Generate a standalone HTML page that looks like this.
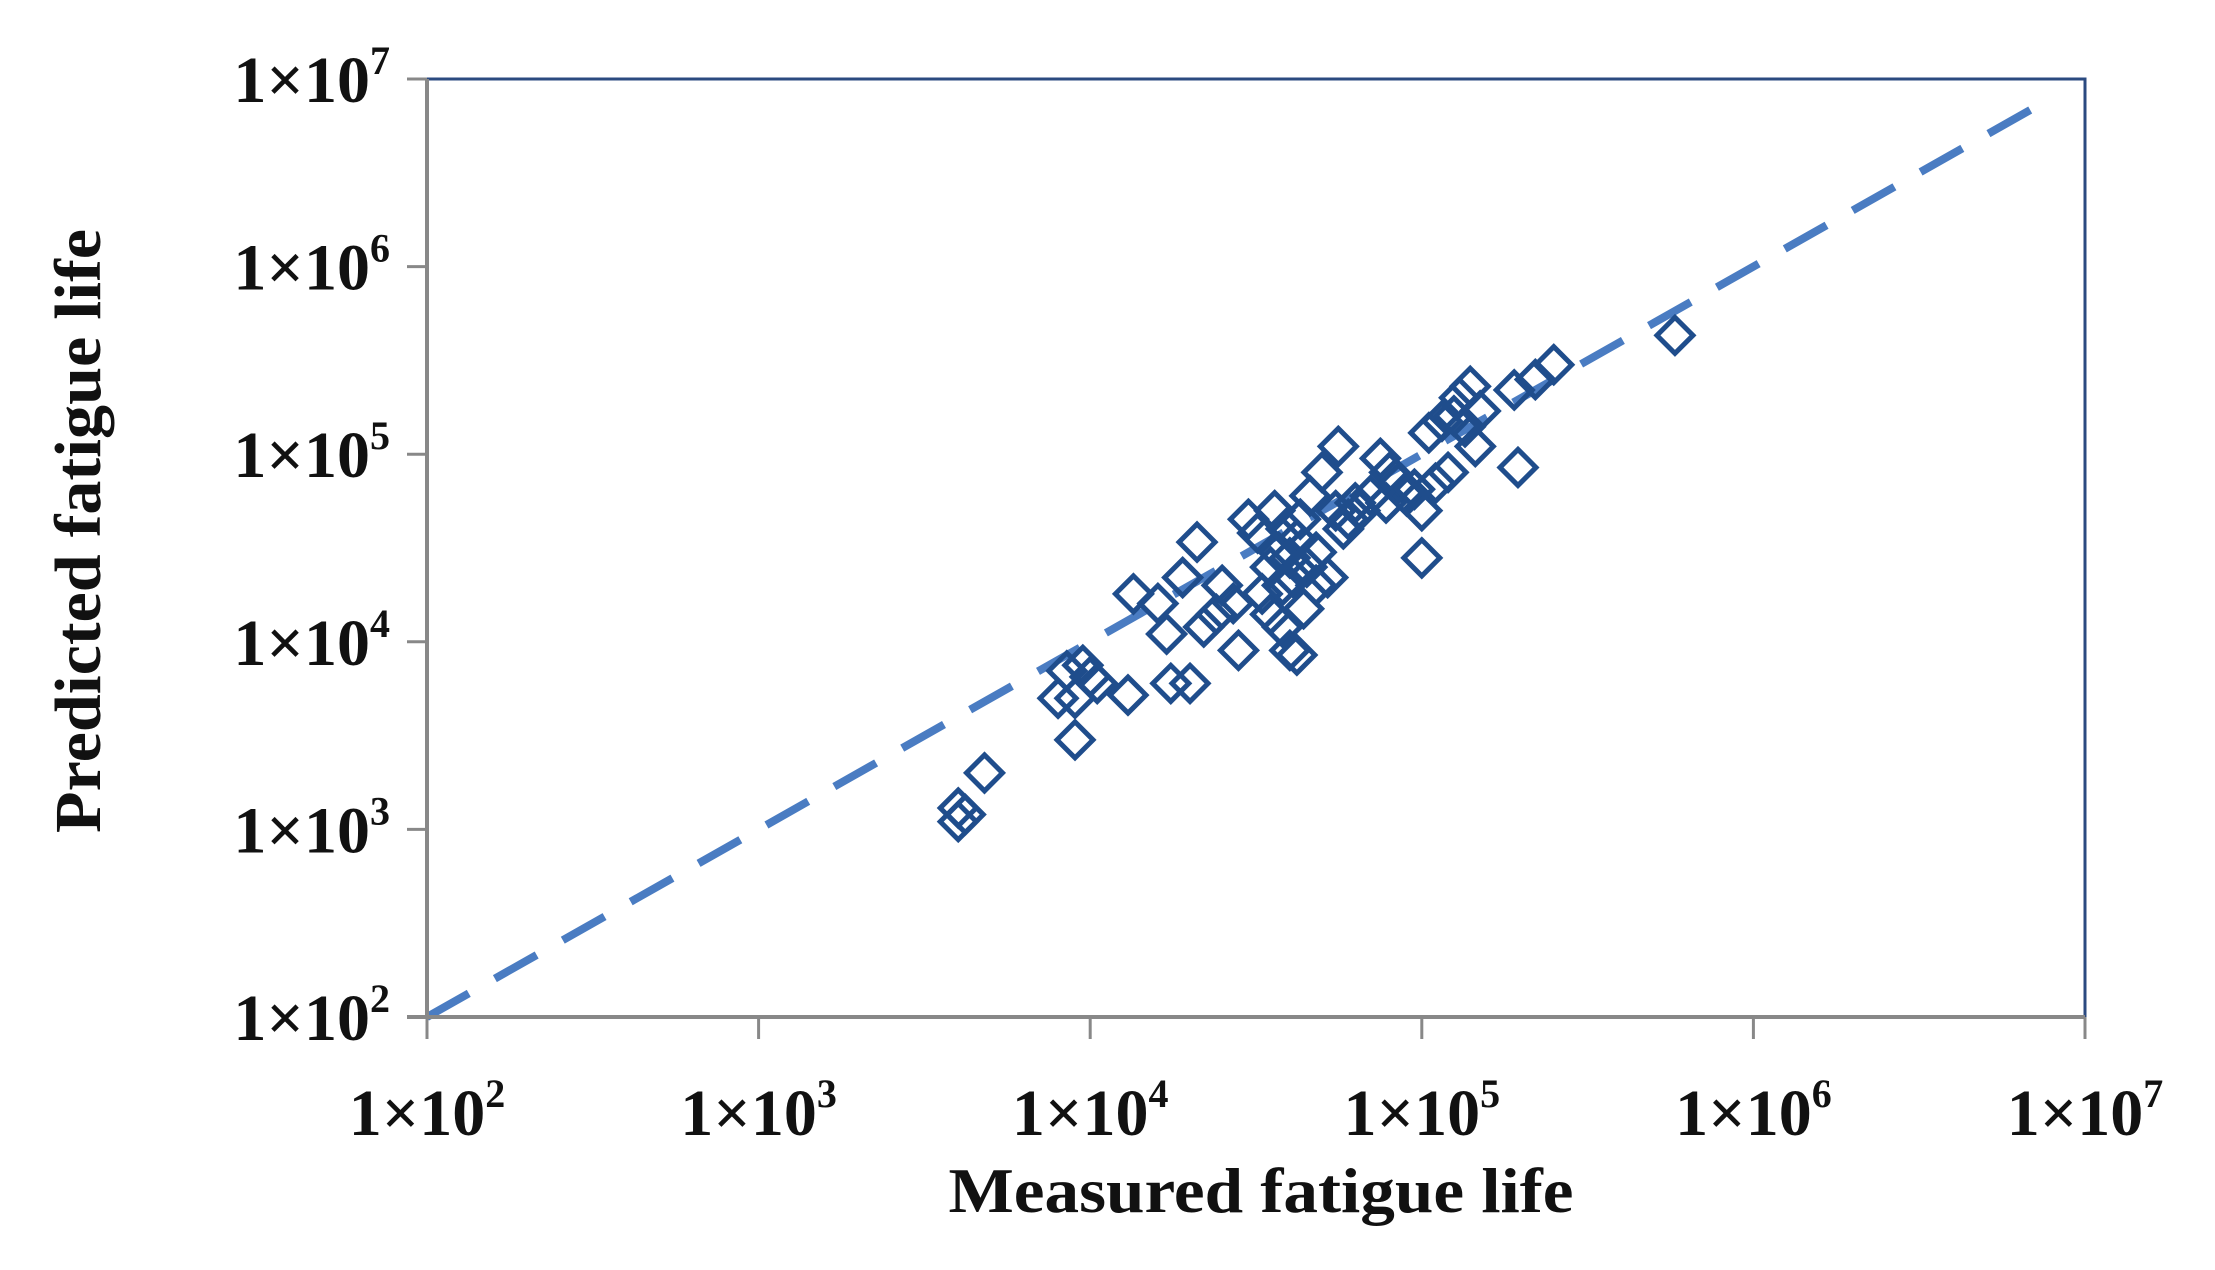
<!DOCTYPE html>
<html><head><meta charset="utf-8"><style>
html,body{margin:0;padding:0;background:#fff;}
svg{display:block;}
text{font-family:"Liberation Serif",serif;font-weight:bold;fill:#111;}
</style></head><body>
<svg id="chart" width="2215" height="1270" viewBox="0 0 2215 1270">
<g id="grid"></g>
<g id="series"></g>
<g id="axes"></g>
<text x="100" y="531" font-size="66" text-anchor="middle" transform="rotate(-90 100 531)" textLength="604" lengthAdjust="spacingAndGlyphs">Predicted  fatigue life</text>
<text x="1261" y="1212" font-size="64" text-anchor="middle" textLength="625" lengthAdjust="spacingAndGlyphs">Measured  fatigue life</text>
</svg>
<script>
const tickExps=[2,3,4,5,6,7];
const measured=[4000,4000,4200,4800,8000,8500,9000,9000,9500,10000,10500,13000,13500,16000,17000,17500,19000,20000,21000,22000,24000,25000,27000,28000,30000,32000,33000,35000,35000,36000,37000,38000,38000,39000,40000,40000,41000,42000,42000,43000,44000,45000,46000,48000,48000,50000,52000,55000,56000,58000,60000,63000,65000,70000,75000,78000,80000,85000,90000,95000,100000,100000,105000,110000,115000,120000,125000,130000,135000,140000,145000,150000,195000,190000,220000,250000,580000];
const predicted=[1300,1100,1200,2000,5000,7000,3000,5000,7500,6500,6000,5200,18000,16000,11000,6000,22000,6000,34000,12000,14000,20000,16000,9000,45000,38000,18000,25000,14000,50000,30000,20000,12000,40000,9000,28000,22000,35000,8500,45000,15000,25000,60000,30000,20000,80000,22000,50000,110000,40000,45000,55000,50000,60000,95000,55000,80000,70000,60000,65000,28000,50000,130000,70000,150000,80000,160000,200000,140000,230000,110000,170000,85000,220000,250000,300000,430000];
const lineX=[100,7000000];
const L=427,R=2085,T=79,B=1017;
const NS='http://www.w3.org/2000/svg';
function sx(v){return L+(Math.log10(v)-2)/5*(R-L);}
function sy(v){return B-(Math.log10(v)-2)/5*(B-T);}
function mk(tag,attrs,parent){const e=document.createElementNS(NS,tag);for(const k in attrs)e.setAttribute(k,attrs[k]);parent.appendChild(e);return e;}
const axes=document.getElementById('axes'),series=document.getElementById('series');
let f=mk('path',{d:`M${L} ${T}H${R}V${B}`,fill:'none',stroke:'#2b4a80','stroke-width':3},axes);


let ya=mk('line',{x1:L,y1:T,x2:L,y2:B,stroke:'#888','stroke-width':4},axes);


let xa=mk('line',{x1:L-20,y1:B,x2:R,y2:B,stroke:'#888','stroke-width':4},axes);


tickExps.forEach(e=>{
  const v=Math.pow(10,e);
  const x=sx(v),y=sy(v);
  let t1=mk('line',{x1:x,y1:B,x2:x,y2:B+22,stroke:'#888','stroke-width':3},axes);
  
  
  let t2=mk('line',{x1:L-20,y1:y,x2:L,y2:y,stroke:'#888','stroke-width':3},axes);
  
  
  let xl=mk('text',{x:x,y:1135,'font-size':66,'text-anchor':'middle'},axes);
  xl.innerHTML='1×10<tspan font-size="40" dy="-28">'+e+'</tspan>';
  
  
  let yl=mk('text',{x:390,y:y+23,'font-size':66,'text-anchor':'end'},axes);
  yl.innerHTML='1×10<tspan font-size="40" dy="-28">'+e+'</tspan>';
  
  
});
let dl=mk('line',{x1:sx(lineX[0]),y1:sy(lineX[0]),x2:sx(lineX[1]),y2:sy(lineX[1]),stroke:'#4a7cc2','stroke-width':8,'stroke-dasharray':'48 30'},series);


const s=18;
measured.forEach((m,i)=>{
  const x=sx(m),y=sy(predicted[i]);
  let d=mk('path',{d:`M${x} ${y-s}L${x+s} ${y}L${x} ${y+s}L${x-s} ${y}Z`,fill:'none',stroke:'#1f4d8c','stroke-width':5},series);
  
  
});
</script>
</body></html>
